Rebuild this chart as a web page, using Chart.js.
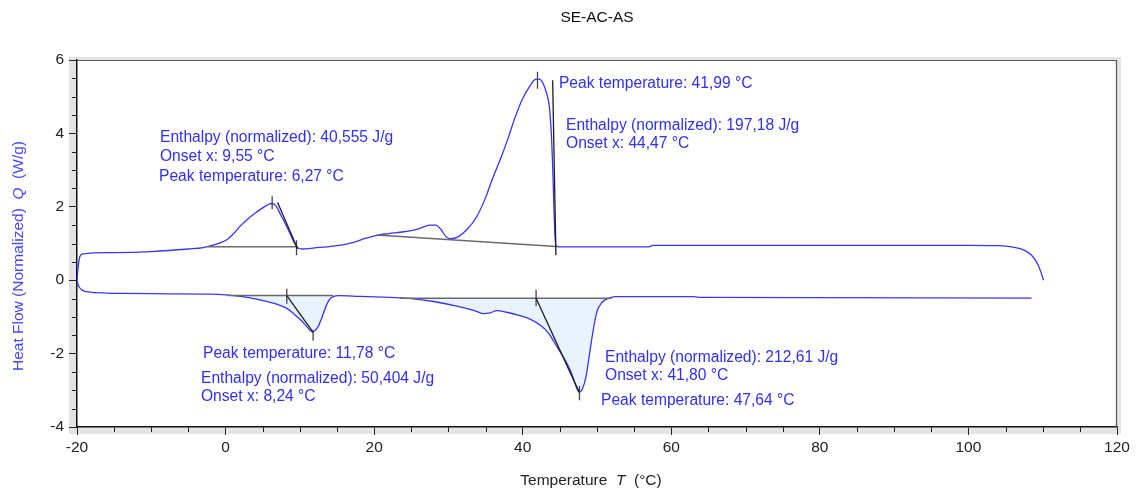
<!DOCTYPE html>
<html>
<head>
<meta charset="utf-8">
<script src="https://cdn.jsdelivr.net/npm/chart.js@4.4.1/dist/chart.umd.min.js"></script>
<style>
  html, body { margin: 0; padding: 0; background: #fff; }
  #wrap { width: 1136px; height: 494px; }
</style>
</head>
<body>
<div id="wrap"><canvas id="dsc-chart"></canvas></div>
<script>
// heating run (upper curve)
var heatT = [-20, -19.85, -19.6, -19.2, -15, -10, -5, -3, -1.5, 0, 1, 2, 3, 4, 5, 5.8, 6.3, 6.8, 7.5, 8.5, 9.3, 9.8, 10.3, 12, 14.5, 17, 19, 20.5, 22, 24, 26, 27.5, 28.3, 29, 29.7, 30.3, 31.3, 32.5, 33.8, 35, 36, 37, 38, 39, 40, 41, 41.7, 42.2, 42.7, 43.2, 43.6, 43.9, 44.05, 44.2, 44.35, 44.5, 45, 50, 57, 57.5, 70, 85, 100, 104, 106, 107.5, 108.5, 109.3, 109.8, 110.1];
var heatQ = [0, 0.35, 0.65, 0.72, 0.75, 0.78, 0.85, 0.89, 0.97, 1.08, 1.25, 1.48, 1.67, 1.83, 1.97, 2.07, 2.09, 2.02, 1.75, 1.35, 1.0, 0.87, 0.85, 0.88, 0.93, 1.02, 1.15, 1.23, 1.27, 1.32, 1.4, 1.5, 1.5, 1.38, 1.18, 1.13, 1.18, 1.38, 1.73, 2.25, 2.8, 3.3, 3.85, 4.45, 4.95, 5.3, 5.47, 5.48, 5.38, 5.1, 4.7, 3.8, 3.0, 2.0, 1.2, 0.93, 0.91, 0.91, 0.91, 0.95, 0.95, 0.95, 0.95, 0.94, 0.9, 0.82, 0.68, 0.45, 0.2, 0];

// cooling run (lower curve)
var coolT = [-20, -19.8, -19.3, -18.5, -16, -14, -8, -2, 0, 2, 4, 5.5, 7, 8.2, 9.2, 10.2, 11, 11.6, 12, 12.5, 13, 13.5, 14, 14.5, 15.2, 18, 22, 25, 28, 31, 33.5, 34.7, 35.5, 36.5, 38, 39.5, 41, 42.5, 43.5, 44.5, 45.5, 46.5, 47.2, 47.6, 48, 48.5, 49, 49.5, 50, 50.7, 51.5, 52.5, 63, 64, 108.5];
var coolQ = [0, -0.15, -0.27, -0.32, -0.35, -0.36, -0.37, -0.38, -0.4, -0.44, -0.51, -0.58, -0.66, -0.76, -0.92, -1.1, -1.28, -1.4, -1.38, -1.25, -1.0, -0.72, -0.52, -0.45, -0.42, -0.44, -0.47, -0.5, -0.58, -0.7, -0.83, -0.91, -0.9, -0.83, -0.88, -0.96, -1.06, -1.25, -1.45, -1.78, -2.1, -2.5, -2.9, -3.05, -2.98, -2.65, -2.0, -1.35, -0.85, -0.6, -0.5, -0.45, -0.45, -0.47, -0.49];

// evaluation lines: [t1, q1, t2, q2]
var baselines = [
  [-2.5, 0.91, 9.6, 0.91],
  [20.3, 1.23, 44.5, 0.92],
  [0.3, -0.42, 14.5, -0.42],
  [23.5, -0.49, 52, -0.49]
];
var tangents = [
  [7.0, 2.12, 9.7, 0.86],
  [44.03, 5.45, 44.47, 0.68],
  [8.24, -0.42, 11.8, -1.42],
  [41.8, -0.49, 47.6, -3.05]
];
var markers = [
  [6.27, 2.29, 6.27, 1.93],
  [9.55, 1.09, 9.55, 0.68],
  [41.99, 5.68, 41.99, 5.22],
  [8.24, -0.23, 8.24, -0.64],
  [11.78, -1.38, 11.78, -1.65],
  [41.8, -0.26, 41.8, -0.71],
  [47.64, -2.88, 47.64, -3.27]
];

// shaded peak areas on the cooling run: [from, to, baseline]
var peakAreas = [
  [0.3, 14.5, -0.42],
  [23.5, 52, -0.49]
];

var xTicks = [-20, 0, 20, 40, 60, 80, 100, 120];
var yTicks = [-4, -2, 0, 2, 4, 6];

// evaluation texts, anchored at [temperature, heat flow]
var labelText = [
  "Enthalpy (normalized): 40,555 J/g", "Onset x: 9,55 °C", "Peak temperature: 6,27 °C",
  "Peak temperature: 41,99 °C", "Enthalpy (normalized): 197,18 J/g", "Onset x: 44,47 °C",
  "Peak temperature: 11,78 °C", "Enthalpy (normalized): 50,404 J/g", "Onset x: 8,24 °C",
  "Enthalpy (normalized): 212,61 J/g", "Onset x: 41,80 °C", "Peak temperature: 47,64 °C"
];
var labelT = [-8.83, -8.83, -8.96, 44.88, 45.83, 45.83, -3.04, -3.31, -3.31, 51.08, 51.08, 50.54];
var labelQ = [3.896, 3.379, 2.807, 5.368, 4.223, 3.733, -2.016, -2.67, -3.161, -2.098, -2.589, -3.27];

var FONT = "'Liberation Sans', Arial, sans-serif";
var CURVE = '#3535ff';

function pts(xs, ys) {
  return xs.map(function (x, i) { return { x: x, y: ys[i] }; });
}
function seg(s) {
  return [{ x: s[0], y: s[1] }, { x: s[2], y: s[3] }];
}

var datasets = [];

peakAreas.forEach(function (a) {
  var d = [];
  coolT.forEach(function (t, i) {
    if (t >= a[0] && t <= a[1]) d.push({ x: t, y: coolQ[i] });
  });
  datasets.push({
    data: d, showLine: true, pointRadius: 0, borderWidth: 0,
    borderColor: 'rgba(0,0,0,0)', backgroundColor: '#e9f3fd',
    fill: { value: a[2] }, cubicInterpolationMode: 'monotone', order: 10
  });
});

datasets.push({
  data: pts(heatT, heatQ), showLine: true, pointRadius: 0, borderWidth: 1.3,
  borderColor: CURVE, cubicInterpolationMode: 'monotone', order: 5
});
datasets.push({
  data: pts(coolT, coolQ), showLine: true, pointRadius: 0, borderWidth: 1.3,
  borderColor: CURVE, cubicInterpolationMode: 'monotone', order: 5
});

baselines.forEach(function (s) {
  datasets.push({ data: seg(s), showLine: true, pointRadius: 0, borderWidth: 1.5, borderColor: '#6a6a6a', order: 2 });
});
tangents.forEach(function (s) {
  datasets.push({ data: seg(s), showLine: true, pointRadius: 0, borderWidth: 1.3, borderColor: '#1e1e1e', order: 1 });
});
markers.forEach(function (s) {
  datasets.push({ data: seg(s), showLine: true, pointRadius: 0, borderWidth: 1.3, borderColor: '#444444', order: 1 });
});

function drawParts(c, parts, cx, cy) {
  var w = 0;
  parts.forEach(function (p) { c.font = p[1] + '15.5px ' + FONT; w += c.measureText(p[0]).width; });
  var x0 = cx - w / 2;
  parts.forEach(function (p) {
    c.font = p[1] + '15.5px ' + FONT;
    c.fillText(p[0], x0, cy);
    x0 += c.measureText(p[0]).width;
  });
}

var framePlugin = {
  id: 'frame',
  beforeDraw: function (chart) {
    var c = chart.ctx, a = chart.chartArea;
    c.save();
    c.fillStyle = '#ffffff';
    c.fillRect(0, 0, chart.width, chart.height);
    c.fillStyle = '#e4e4e4';
    c.fillRect(a.left - 8, a.top - 3, a.right - a.left + 12, a.bottom - a.top + 10);
    c.fillStyle = '#ffffff';
    c.fillRect(a.left, a.top, a.right - a.left, a.bottom - a.top);
    c.restore();
  },
  afterDraw: function (chart) {
    var c = chart.ctx, a = chart.chartArea;
    var xs = chart.scales.x, ys = chart.scales.y;
    c.save();
    // top and right border
    c.strokeStyle = '#555555';
    c.lineWidth = 1.2;
    c.beginPath();
    c.moveTo(a.left, a.top + 0.5);
    c.lineTo(a.right - 0.5, a.top + 0.5);
    c.lineTo(a.right - 0.5, a.bottom);
    c.stroke();
    // minor ticks
    c.strokeStyle = '#222222';
    c.lineWidth = 1;
    c.beginPath();
    for (var t = -20; t <= 120; t += 5) {
      if (t % 20 === 0) continue;
      var px = Math.round(xs.getPixelForValue(t)) + 0.5;
      c.moveTo(px, a.bottom);
      c.lineTo(px, a.bottom + 5);
    }
    for (var q = -4; q <= 6; q += 0.5) {
      if (q % 2 === 0) continue;
      var py = Math.round(ys.getPixelForValue(q)) + 0.5;
      c.moveTo(a.left - 5, py);
      c.lineTo(a.left, py);
    }
    c.stroke();

    // evaluation texts
    c.fillStyle = '#3030f0';
    c.font = '15.6px ' + FONT;
    c.textAlign = 'left';
    c.textBaseline = 'middle';
    labelText.forEach(function (s, i) {
      c.fillText(s, xs.getPixelForValue(labelT[i]), ys.getPixelForValue(labelQ[i]));
    });

    // x axis title with italic symbol
    c.fillStyle = '#222222';
    drawParts(c, [['Temperature  ', ''], ['T', 'italic '], ['  (°C)', '']], 591, 481);

    // y axis title, rotated
    c.translate(19, 256);
    c.rotate(-Math.PI / 2);
    c.fillStyle = '#4646ff';
    drawParts(c, [['Heat Flow (Normalized)  ', ''], ['Q', 'italic '], ['  (W/g)', '']], 0, 0);
    c.restore();
  }
};

var chart = new Chart(document.getElementById('dsc-chart'), {
  type: 'scatter',
  data: { datasets: datasets },
  plugins: [framePlugin],
  options: {
    responsive: true,
    maintainAspectRatio: false,
    animation: false,
    events: [],
    layout: { padding: { left: 0, right: 19, top: 0, bottom: 0 } },
    plugins: {
      legend: { display: false },
      tooltip: { enabled: false },
      title: {
        display: true,
        text: 'SE-AC-AS',
        fullSize: false,
        color: '#111111',
        font: { family: FONT, size: 15.5, weight: 'normal' },
        padding: { top: 8, bottom: 33.4 }
      }
    },
    scales: {
      x: {
        type: 'linear',
        min: -20, max: 120,
        afterBuildTicks: function (s) { s.ticks = xTicks.map(function (v) { return { value: v }; }); },
        afterFit: function (s) { s.height = 67; },
        grid: { drawOnChartArea: false, drawTicks: true, tickLength: 8, color: '#222222' },
        border: { color: '#111111', width: 1.5 },
        ticks: { color: '#222222', padding: 3, font: { family: FONT, size: 15.5 }, maxRotation: 0 }
      },
      y: {
        type: 'linear',
        min: -4, max: 6,
        afterBuildTicks: function (s) { s.ticks = yTicks.map(function (v) { return { value: v }; }); },
        afterFit: function (s) { s.width = 77; },
        grid: { drawOnChartArea: false, drawTicks: true, tickLength: 8, color: '#222222' },
        border: { color: '#111111', width: 1.5 },
        ticks: { color: '#222222', padding: 5, font: { family: FONT, size: 15.5 } }
      }
    }
  }
});
</script>
</body>
</html>
